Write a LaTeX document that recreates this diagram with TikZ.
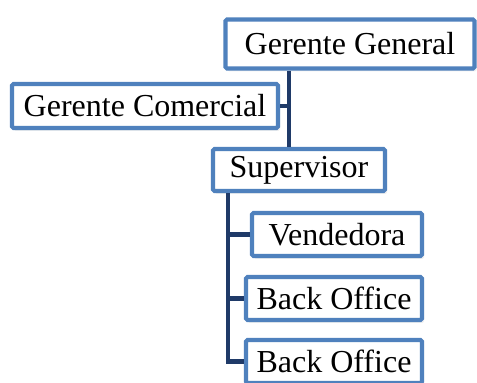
\documentclass[tikz,border=0pt]{standalone}
\usepackage{fontspec}
\setmainfont{Liberation Serif}
\usetikzlibrary{positioning, calc, shadows}
\usepackage{xcolor}
\definecolor{BoxLine}{HTML}{4F81BD}
\definecolor{Link}{HTML}{1F3A68}

\begin{document}
\begin{tikzpicture}[
            x=1pt, y=1pt,
            role/.style={
                rectangle,
                draw=BoxLine,
                fill=white,
                line width=4.2pt,
                rounded corners=1.5pt,
                inner sep=0pt,
                minimum height=43pt,
                align=center,
                font=\fontsize{32}{36}\selectfont,
                text=black,
                drop shadow={opacity=0.12, shadow xshift=2pt, shadow yshift=-3pt}
            },
            link/.style={line width=4.8pt, color=Link}
        ]
            \useasboundingbox (0,0) rectangle (477,383);

            % Connectors go first so the boxes sit on top
            \coordinate (trunk) at (289,200);
            \coordinate (spine) at (228,100);

            \node[role, minimum width=249pt, minimum height=49pt] (general) at (350,339) {Gerente General};
            \node[role, minimum width=266pt, minimum height=44pt] (comercial) at (145,277) {Gerente Comercial};
            \node[role, minimum width=172pt, minimum height=42pt] (supervisor) at (299,213) {Supervisor};
            \node[role, minimum width=170pt] (vendedora) at (337,148.5) {Vendedora};
            \node[role, minimum width=176pt] (backA) at (334,84.5) {Back Office};
            \node[role, minimum width=176pt] (backB) at (334,21.5) {Back Office};

            % Upper level
            \draw[link] (general.south -| trunk) -- (supervisor.north -| trunk);
            \draw[link] (comercial.east) -- (comercial.east -| trunk);

            % Staff under the supervisor
            \draw[link] (supervisor.south -| spine) |- (backB.west);
            \draw[link] (spine |- vendedora.west) -- (vendedora.west);
            \draw[link] (spine |- backA.west) -- (backA.west);
        \end{tikzpicture}
\end{document}
